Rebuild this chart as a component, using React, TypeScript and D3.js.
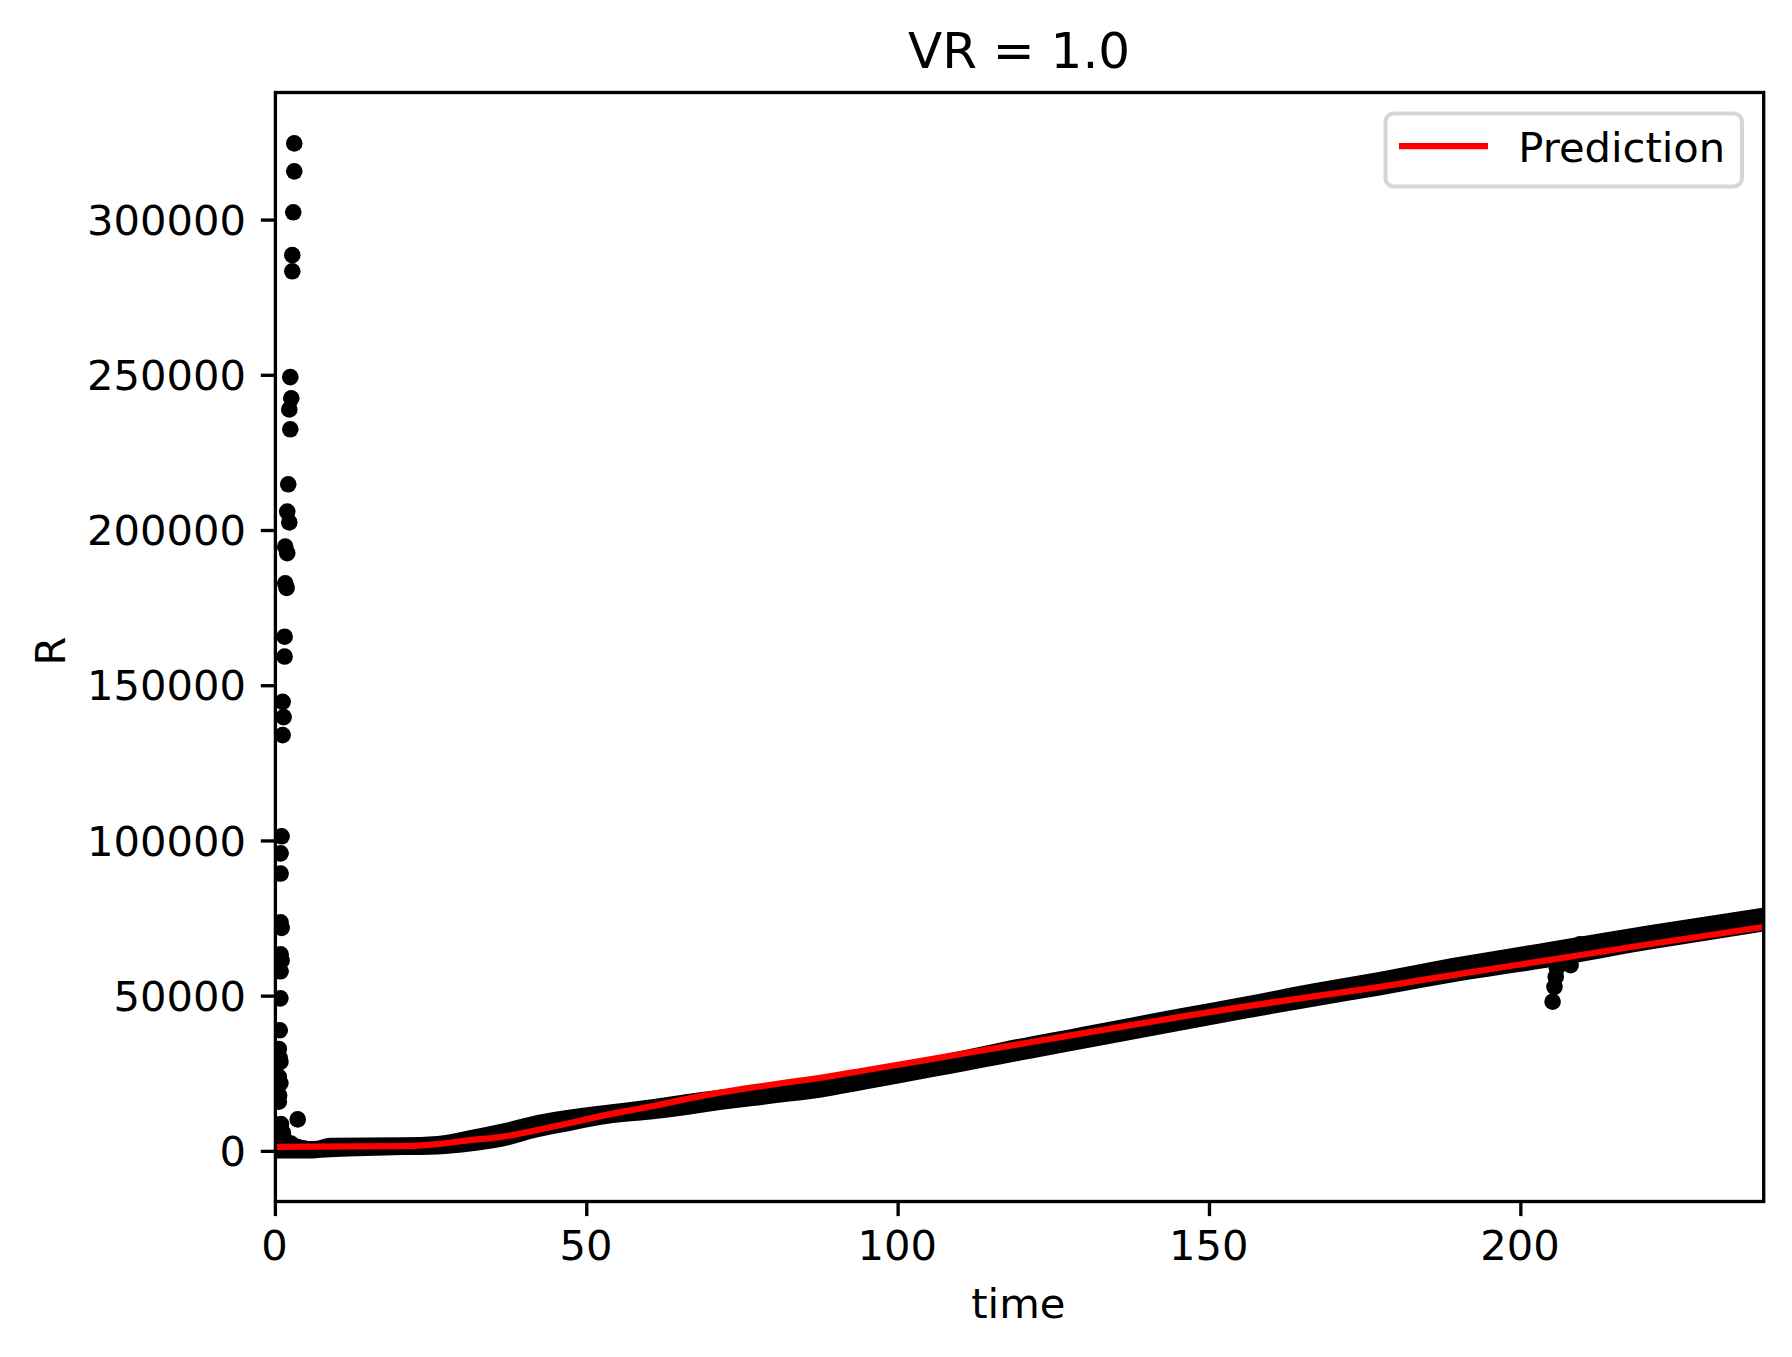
import React from "react";
import * as d3 from "d3";

const xTicks = [0, 50, 100, 150, 200];
const yTicks = [0, 50000, 100000, 150000, 200000, 250000, 300000];

const pointTime = [
  3.03, 3.03, 2.87, 2.71, 2.71, 2.39, 2.55, 2.23, 2.39, 2.06, 1.9, 2.23, 1.58, 1.9, 1.58,
  1.8, 1.48, 1.48, 1.16, 1.32, 1.16, 1.0, 0.84, 0.84, 0.84, 1.0, 0.84, 1.0, 0.84, 0.8,
  0.7, 0.55, 0.8, 0.7, 0.8, 0.55, 0.55, 0.6, 0.9, 3.58, 0.5, 1.2, 1.6, 2.5, 3.5, 4.5,
  205.1, 205.4, 205.6, 205.8, 208, 209.5,
];
const pointValue = [
  324700, 315700, 302500, 288700, 283500, 249400, 242600, 239000, 232600, 214900, 206100, 202600, 194800, 192700, 183000,
  181500, 165800, 159400, 144800, 139900, 134100, 101500, 96000, 89500, 73800, 72000, 63500, 61500, 58000, 49300,
  39000, 33000, 28800, 30000, 22000, 24000, 16000, 18000, 8800, 10300, 5000, 6000, 3500, 2500, 1500, 1000,
  48200, 53000, 56200, 59000, 60000, 66700,
];

const bandTime = [
  0, 6, 8.8, 20.5, 26, 31.3, 36.6, 42, 47.3, 52.6, 60.7, 66.1, 71.4, 76.7, 82.2, 87.5, 95, 105.6, 111.1,
  116.4, 121.7, 127.2, 132.4, 145.3, 156.1, 166.7, 177.4, 188.7, 204.7, 220.8, 239.5,
];
const bandUpper = [
  3300, 3300, 4400, 4510, 4930, 6860, 9020, 11700, 13470, 14820, 16850, 18500, 19850, 21100, 22400, 23900, 26520, 30500, 32800,
  35100, 37200, 39200, 41180, 46070, 50040, 54130, 57870, 62180, 67530, 72900, 78700,
];
const bandLower = [
  -2300, -2260, -1930, -1190, -970, -60, 1550, 4450, 6540, 8630, 10310, 11700, 13310, 14600, 15980, 17300, 19980, 23960, 26000,
  28000, 30000, 32070, 34000, 38860, 42850, 46590, 50200, 54300, 59300, 65000, 71000,
];

const predTime = [
  0, 20.5, 26, 31.3, 36.6, 42, 47.3, 52.6, 60.7, 66.1, 71.4, 76.7, 82.2, 87.5, 95, 105.6, 111.1, 116.4, 121.7, 127.2, 132.4,
  145.3, 156.1, 166.7, 177.4, 188.7, 204.7, 220.8, 239.5,
];
const predValue = [
  1480, 1710, 2350, 3640, 4770, 6860, 9120, 11530, 14600, 16900, 18900, 20600, 22200, 23700, 26200, 29800, 31700, 33500, 35300, 37200, 39000,
  43300, 46800, 49900, 53000, 56700, 61700, 66800, 72450,
];

const FONT = "'DejaVu Sans', sans-serif";
const FS = 41.67;
const left = 275.4, right = 1763.7, top = 92.5, bottom = 1201.5;

export default function App() {
  const x = d3.scaleLinear().domain([0, 239]).range([left, right]);
  const y = d3.scaleLinear().domain([-16150, 341100]).range([bottom, top]);

  const band = d3
    .area<number>()
    .x((_, i) => x(bandTime[i]))
    .y0((_, i) => y(bandLower[i]))
    .y1((_, i) => y(bandUpper[i]))
    .curve(d3.curveMonotoneX)(bandTime);

  const pred = d3
    .line<number>()
    .x((_, i) => x(predTime[i]))
    .y((_, i) => y(predValue[i]))
    .curve(d3.curveMonotoneX)(predTime);

  return (
    <svg
      width={1792}
      height={1357}
      viewBox="0 0 1792 1357"
      style={{ position: "absolute", left: 0, top: 0, background: "#fff" }}
      fontFamily={FONT}
    >
      <defs>
        <clipPath id="plot">
          <rect x={left} y={top} width={right - left} height={bottom - top} />
        </clipPath>
      </defs>
      <g clipPath="url(#plot)">
        <path d={band ?? ""} fill="#000" />
        {pointTime.map((t, i) => (
          <circle key={i} cx={x(t)} cy={y(pointValue[i])} r={8.3} fill="#000" />
        ))}
        <path d={pred ?? ""} fill="none" stroke="#f00" strokeWidth={6.25} />
      </g>

      <rect x={left} y={top} width={right - left} height={bottom - top} fill="none" stroke="#000" strokeWidth={3.33} />

      {xTicks.map((t) => (
        <g key={t}>
          <line x1={x(t)} x2={x(t)} y1={bottom} y2={bottom + 14.6} stroke="#000" strokeWidth={3.33} />
          <text x={x(t) - 0.8} y={1259.5} fontSize={FS} textAnchor="middle" fill="#000">
            {t}
          </text>
        </g>
      ))}
      {yTicks.map((v) => (
        <g key={v}>
          <line x1={left} x2={left - 14.6} y1={y(v)} y2={y(v)} stroke="#000" strokeWidth={3.33} />
          <text x={246} y={y(v) + 14.6} fontSize={FS} textAnchor="end" fill="#000">
            {v}
          </text>
        </g>
      ))}

      <text x={(left + right) / 2 - 0.5} y={67.5} fontSize={50} textAnchor="middle" fill="#000">
        VR = 1.0
      </text>
      <text x={(left + right) / 2 - 1.2} y={1318} fontSize={FS} textAnchor="middle" fill="#000">
        time
      </text>
      <text
        transform={`translate(65,${(top + bottom) / 2 + 4}) rotate(-90)`}
        fontSize={FS}
        textAnchor="middle"
        fill="#000"
      >
        R
      </text>

      <rect x={1385.5} y={113.5} width={356.5} height={73} rx={8.3} fill="#fff" fillOpacity={0.8} stroke="#ccc" strokeOpacity={0.8} strokeWidth={4.17} />
      <line x1={1399} x2={1488} y1={146} y2={146} stroke="#f00" strokeWidth={6.25} />
      <text x={1518.3} y={161.7} fontSize={FS} fill="#000">
        Prediction
      </text>
    </svg>
  );
}
